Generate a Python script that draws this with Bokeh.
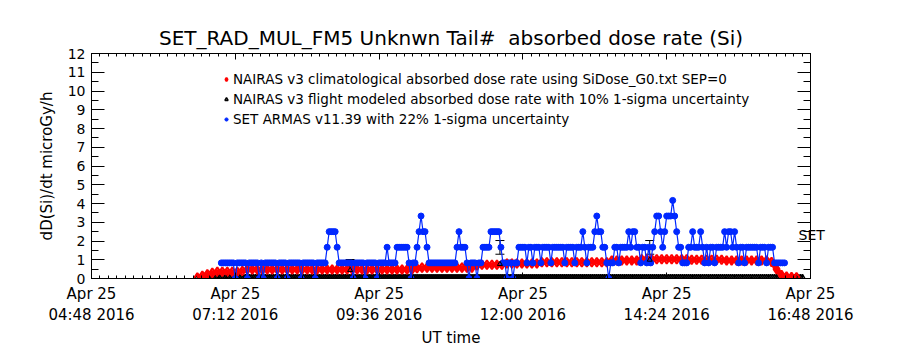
import pandas as pd
from bokeh.plotting import figure
from bokeh.models import (Range1d, LinearAxis, FixedTicker, DatetimeTickFormatter,
                          ColumnDataSource, Whisker, TeeHead, Legend, LegendItem,
                          CustomJSTickFormatter)
from bokeh.embed import file_html
from bokeh.resources import INLINE

DAY = "2016-04-25"
X_START, X_END = "04:48", "16:48"
x_tick_times = ["04:48", "07:12", "09:36", "12:00", "14:24", "16:48"]
y_ticks = list(range(0, 13))

# NAIRAS v3 climatological absorbed dose rate, sampled every 5 min from 06:34
nairas_clim_start, nairas_clim_step = "06:34", 5
nairas_clim = [
    0.05, 0.15, 0.22, 0.30, 0.36, 0.36, 0.36, 0.36, 0.36, 0.40,
    0.48, 0.48, 0.48, 0.48, 0.48, 0.48, 0.48, 0.48, 0.48, 0.48,
    0.48, 0.48, 0.48, 0.48, 0.48, 0.48, 0.48, 0.48, 0.48, 0.48,
    0.48, 0.48, 0.48, 0.48, 0.48, 0.48, 0.48, 0.48, 0.48, 0.48,
    0.48, 0.48, 0.48, 0.48, 0.55, 0.58, 0.58, 0.58, 0.58, 0.58,
    0.58, 0.58, 0.58, 0.58, 0.58, 0.58, 0.70, 0.73, 0.73, 0.73,
    0.73, 0.73, 0.80, 0.80, 0.80, 0.80, 0.80, 0.80, 0.80, 0.87,
    0.87, 0.87, 0.87, 0.87, 0.87, 0.87, 0.87, 0.87, 0.87, 0.87,
    0.87, 0.87, 0.87, 0.96, 0.96, 0.96, 0.96, 0.96, 0.96, 1.03,
    1.03, 1.03, 1.03, 1.03, 1.03, 1.03, 1.03, 1.03, 1.03, 1.00,
    1.00, 1.00, 1.00, 1.00, 1.00, 1.00, 0.96, 0.96, 0.96, 0.96,
    0.96, 0.96, 0.96, 0.96, 0.96, 0.88, 0.50, 0.18, 0.10, 0.08,
    0.06,
]
# NAIRAS v3 flight modeled values along the track: all zero (every 2 min from 06:34)
nairas_flight_start, nairas_flight_step = "06:34", 2
nairas_flight_track = [0.0] * 304

# SET ARMAS v11.39 dose rate in counts of 0.833 microGy/h, every 2 min from 06:58
armas_start, armas_step = "06:58", 2
armas_dose_per_count = 0.833
armas_counts = [
    1, 1, 1, 1, 1, 1, 1, 0, 1, 1,
    1, 1, 1, 0, 1, 1, 1, 1, 1, 0,
    1, 0, 1, 1, 1, 1, 1, 1, 0, 1,
    1, 1, 1, 0, 1, 1, 1, 1, 1, 1,
    0, 1, 1, 1, 1, 1, 1, 0, 1, 1,
    1, 1, 1, 2, 3, 3, 3, 3, 2, 1,
    1, 1, 1, 1, 1, 1, 0, 1, 1, 1,
    1, 1, 0, 1, 1, 1, 1, 1, 0, 1,
    1, 1, 1, 2, 1, 1, 1, 1, 2, 2,
    2, 2, 2, 2, 1, 0, 1, 1, 2, 3,
    4, 3, 3, 2, 1, 1, 1, 1, 1, 1,
    1, 1, 1, 1, 1, 1, 1, 1, 2, 3,
    2, 2, 2, 1, 0, 1, 1, 1, 0, 1,
    1, 2, 2, 2, 2, 3, 3, 3, 3, 3,
    2, 1, 1, 0, 1, 1, 0, 1, 1, 2,
    2, 2, 2, 1, 2, 2, 1, 2, 2, 2,
    1, 2, 2, 2, 2, 1, 2, 2, 2, 2,
    2, 2, 1, 2, 2, 2, 2, 1, 2, 2,
    2, 3, 2, 1, 2, 2, 2, 3, 4, 3,
    3, 2, 2, 1, 0, 1, 1, 2, 2, 1,
    2, 2, 2, 2, 3, 2, 3, 3, 2, 2,
    1, 2, 2, 1, 2, 1, 2, 3, 4, 4,
    3, 2, 3, 4, 4, 4, 5, 4, 3, 2,
    2, 1, 1, 1, 2, 2, 3, 2, 2, 2,
    3, 2, 1, 2, 1, 2, 2, 1, 2, 2,
    2, 2, 3, 2, 3, 3, 2, 3, 2, 1,
    2, 2, 1, 2, 2, 2, 2, 2, 2, 1,
    2, 2, 2, 1, 2, 2, 2, 1, 1, 1,
    1, 1, 1,
]

# 1-sigma uncertainty bars
err_times = ["09:07", "11:37", "14:07"]
armas_err_center = [0.83, 1.66, 1.66]
armas_rel_unc = 0.22
nairas_flight_pts = [0.45, 0.77, 1.00]
nairas_rel_unc = 0.10

legend_labels = [
    "NAIRAS v3 climatological absorbed dose rate using SiDose_G0.txt SEP=0",
    "NAIRAS v3 flight modeled absorbed dose rate with 10% 1-sigma uncertainty",
    "SET ARMAS v11.39 with 22% 1-sigma uncertainty",
]
set_tag_value = 2.3
set_tag_text = "SET"

FONT = "DejaVu Sans"
RED, BLUE, BLACK = "#ff0000", "#0028ff", "#000000"


def ts(hhmm):
    return pd.Timestamp(f"{DAY} {hhmm}")


def series_times(start, step, n):
    return [ts(start) + pd.Timedelta(minutes=step * i) for i in range(n)]


clim_t = series_times(nairas_clim_start, nairas_clim_step, len(nairas_clim))
flight_t = series_times(nairas_flight_start, nairas_flight_step, len(nairas_flight_track))
armas_t = series_times(armas_start, armas_step, len(armas_counts))
armas_dose = [c * armas_dose_per_count for c in armas_counts]


def ms(t):
    return t.value / 1e6


x0, x1 = ms(ts(X_START)), ms(ts(X_END))
major_x = [ms(ts(h)) for h in x_tick_times]
minor_step = (major_x[1] - major_x[0]) / 17
minor_x = []
v = x0
while v <= x1 + 1:
    minor_x.append(v)
    v += minor_step

p = figure(width=900, height=350, x_axis_type="datetime",
           x_range=Range1d(x0, x1), y_range=Range1d(0, 12),
           output_backend="svg", toolbar_location=None,
           min_border_left=91, min_border_right=90,
           min_border_top=53, min_border_bottom=71)
p.background_fill_color = "white"
p.border_fill_color = "white"
p.grid.visible = False
p.outline_line_color = BLACK
p.outline_line_width = 1

p.title.text = "SET_RAD_MUL_FM5 Unknwn Tail#\u00a0 absorbed dose rate (Si)"
p.title.text_font = FONT
p.title.text_font_size = "20px"
p.title.text_font_style = "normal"
p.title.text_color = BLACK
p.title.align = "center"
p.title.offset = -8
p.title.standoff = 8

xt = FixedTicker(ticks=major_x, minor_ticks=minor_x)
fmt = "%b %d\n%H:%M %Y"
xfmt = DatetimeTickFormatter(milliseconds=fmt, seconds=fmt, minsec=fmt, minutes=fmt,
                             hourmin=fmt, hours=fmt, days=fmt, months=fmt, years=fmt)
xa = p.xaxis[0]
xa.ticker = xt
xa.formatter = xfmt
xa.axis_label = "UT time"
yt = FixedTicker(ticks=y_ticks, minor_ticks=[i + 0.5 for i in range(12)])
ya = p.yaxis[0]
ya.ticker = yt
ya.axis_label = "dD(Si)/dt microGy/h"

for ax in (xa, ya):
    ax.axis_label_text_font = FONT
    ax.axis_label_text_font_style = "normal"
    ax.axis_label_text_font_size = "15px"
    ax.axis_label_text_color = BLACK
    ax.major_label_text_font = FONT
    ax.major_label_text_font_size = "14px"
    ax.major_label_text_color = BLACK
    ax.axis_line_color = BLACK
    ax.major_tick_line_color = BLACK
    ax.minor_tick_line_color = BLACK
    ax.major_tick_out = 0
    ax.minor_tick_out = 0

xa.major_label_text_font_size = "15px"
xa.major_tick_in = 6
xa.minor_tick_in = 3
xa.major_label_standoff = 6
xa.axis_label_standoff = 2
ya.major_tick_in = 13
ya.minor_tick_in = 7
ya.major_label_standoff = 6
ya.axis_label_standoff = 9

blank = CustomJSTickFormatter(code="return ''")
top = LinearAxis(ticker=xt, formatter=blank, major_tick_in=6,
                 minor_tick_in=3, major_tick_out=0, minor_tick_out=0,
                 major_label_standoff=0, axis_line_color=BLACK)
p.add_layout(top, "above")
right = LinearAxis(ticker=yt, formatter=blank, major_tick_in=13,
                   minor_tick_in=7, major_tick_out=0, minor_tick_out=0,
                   major_label_standoff=0, axis_line_color=BLACK)
p.add_layout(right, "right")
# "SET" tag written just right of the frame, at the ARMAS level
tag = LinearAxis(ticker=FixedTicker(ticks=[set_tag_value], minor_ticks=[]),
                 major_label_overrides={set_tag_value: set_tag_text},
                 major_tick_in=0, major_tick_out=0, minor_tick_in=0, minor_tick_out=0,
                 axis_line_color=None, major_label_standoff=-12,
                 major_label_text_font=FONT, major_label_text_font_size="14px",
                 major_label_text_color=BLACK)
p.add_layout(tag, "right")

# data
flight_r = p.scatter(flight_t, nairas_flight_track, marker="triangle", size=7,
                     line_color=BLACK, fill_color=None, line_width=1.5)
p.line(clim_t, nairas_clim, line_color=RED, line_width=5)
clim_r = p.scatter(clim_t, nairas_clim, marker="diamond", size=9,
                   line_color=RED, fill_color=None, line_width=2)
p.line(armas_t, armas_dose, line_color=BLUE, line_width=1.2)
armas_r = p.scatter(armas_t, armas_dose, marker="circle", size=6,
                    line_color=BLUE, fill_color=BLUE)

et = [ts(h) for h in err_times]
src_a = ColumnDataSource(dict(
    x=et,
    up=[c * (1 + armas_rel_unc) for c in armas_err_center],
    lo=[c * (1 - armas_rel_unc) for c in armas_err_center]))
src_n = ColumnDataSource(dict(
    x=et, y=nairas_flight_pts,
    up=[c * (1 + nairas_rel_unc) for c in nairas_flight_pts],
    lo=[c * (1 - nairas_rel_unc) for c in nairas_flight_pts]))
for src in (src_a, src_n):
    w = Whisker(base="x", upper="up", lower="lo", source=src, line_color=BLACK,
                line_width=1,
                upper_head=TeeHead(size=9, line_color=BLACK, line_width=1),
                lower_head=TeeHead(size=9, line_color=BLACK, line_width=1))
    p.add_layout(w)
p.scatter("x", "y", source=src_n, marker="triangle", size=5,
          line_color=BLACK, fill_color=None, line_width=1)

legend = Legend(items=[
    LegendItem(label=legend_labels[0], renderers=[clim_r]),
    LegendItem(label=legend_labels[1], renderers=[flight_r]),
    LegendItem(label=legend_labels[2], renderers=[armas_r]),
], location=(131, 151))
legend.background_fill_alpha = 0
legend.border_line_alpha = 0
legend.label_text_font = FONT
legend.label_text_font_size = "13.5px"
legend.label_text_color = BLACK
legend.glyph_width = 8
legend.glyph_height = 12
legend.label_height = 12
legend.label_standoff = 3
legend.spacing = 4
legend.padding = 0
legend.margin = 0
p.add_layout(legend)

open("out.html", "w").write(file_html(p, INLINE))
